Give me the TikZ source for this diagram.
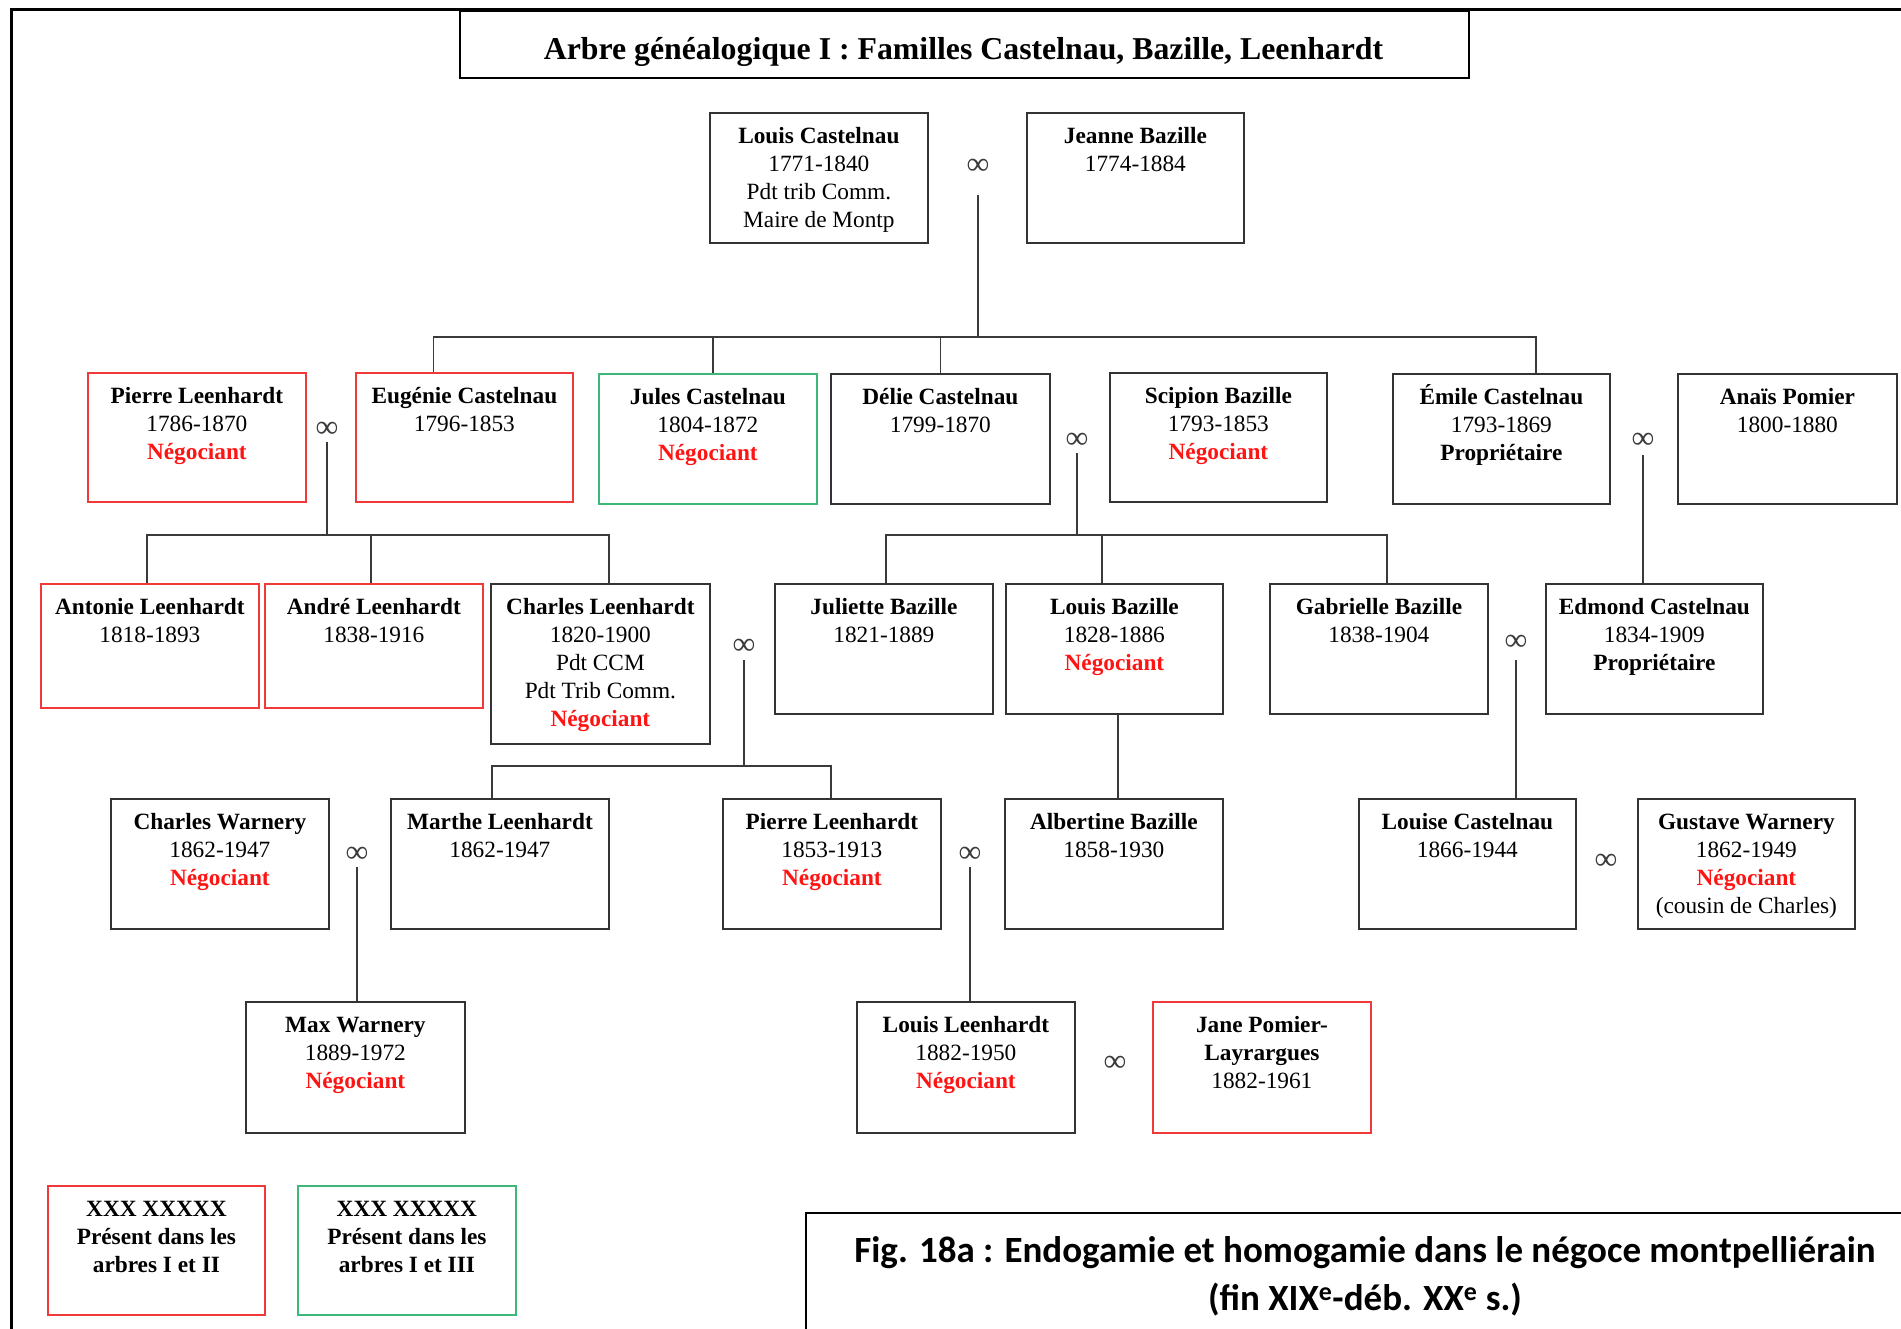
\documentclass[tikz,border=0pt]{standalone}
\usepackage{fontspec}
\setmainfont{Liberation Serif}
\newfontfamily\capfont{Carlito}
\definecolor{boxgray}{HTML}{333333}
\definecolor{linegray}{HTML}{3A3A3A}
\definecolor{myred}{HTML}{F03A3A}
\definecolor{mygreen}{HTML}{3CB878}
\definecolor{txtred}{HTML}{FF1414}
\newcommand\pcont[3]{\parbox[c][#2pt][t]{#1pt}{\centering\fontsize{23.3}{27.8}\selectfont\rule{0pt}{31pt}#3}}
\newcommand\nm[1]{\textbf{#1}}
\newcommand\negoc{{\color{txtred}\textbf{Négociant}}}
\tikzset{
  pbox/.style={draw=boxgray, line width=1.8pt, inner sep=0pt, anchor=north west},
  redbox/.style={pbox, draw=myred},
  greenbox/.style={pbox, draw=mygreen},
  link/.style={draw=linegray, line width=1.4pt},
  inf/.style={inner sep=0pt, font=\fontsize{32}{32}\selectfont, text=linegray},
}
\begin{document}
\begin{tikzpicture}[x=1pt,y=-1pt]
\useasboundingbox (0,0) rectangle (1901,1329);
% outer frame
\draw[line width=3pt, draw=black] (11,1340) -- (11,10) -- (1910,10);
% title
\node[draw=black, line width=2pt, inner sep=0pt, anchor=north west, minimum width=1009pt, minimum height=67pt] (title) at (459,10) {};
\node[anchor=base, inner sep=0pt, font=\fontsize{31.8}{36}\selectfont\bfseries] (titletext) at (963.5,60) {Arbre généalogique I : Familles Castelnau, Bazille, Leenhardt};

% row 0
\node[pbox] (lc) at (709,112) {\pcont{218}{130}{\nm{Louis Castelnau}\\1771-1840\\Pdt trib Comm.\\Maire de Montp}};
\node[pbox] (jb) at (1026,112) {\pcont{217}{130}{\nm{Jeanne Bazille}\\1774-1884}};

% row 1
\node[redbox] (pl1) at (87,372) {\pcont{218}{129}{\nm{Pierre Leenhardt}\\1786-1870\\\negoc}};
\node[redbox] (ec) at (355,372) {\pcont{217}{129}{\nm{Eugénie Castelnau}\\1796-1853}};
\node[greenbox] (jc) at (598,373) {\pcont{218}{130}{\nm{Jules Castelnau}\\1804-1872\\\negoc}};
\node[pbox] (dc) at (830,373) {\pcont{219}{130}{\nm{Délie Castelnau}\\1799-1870}};
\node[pbox] (sb) at (1109,372) {\pcont{217}{129}{\nm{Scipion Bazille}\\1793-1853\\\negoc}};
\node[pbox] (emc) at (1392,373) {\pcont{217}{130}{\nm{Émile Castelnau}\\1793-1869\\\nm{Propriétaire}}};
\node[pbox] (ap) at (1677,373) {\pcont{219}{130}{\nm{Anaïs Pomier}\\1800-1880}};

% row 2
\node[redbox] (al) at (40,583) {\pcont{218}{124}{\nm{Antonie Leenhardt}\\1818-1893}};
\node[redbox] (andre) at (264,583) {\pcont{218}{124}{\nm{André Leenhardt}\\1838-1916}};
\node[pbox] (cl) at (490,583) {\pcont{219}{160}{\nm{Charles Leenhardt}\\1820-1900\\Pdt CCM\\Pdt Trib Comm.\\\negoc}};
\node[pbox] (jub) at (774,583) {\pcont{218}{130}{\nm{Juliette Bazille}\\1821-1889}};
\node[pbox] (lb) at (1005,583) {\pcont{217}{130}{\nm{Louis Bazille}\\1828-1886\\\negoc}};
\node[pbox] (gb) at (1269,583) {\pcont{218}{130}{\nm{Gabrielle Bazille}\\1838-1904}};
\node[pbox] (edc) at (1545,583) {\pcont{217}{130}{\nm{Edmond Castelnau}\\1834-1909\\\nm{Propriétaire}}};

% row 3
\node[pbox] (cw) at (110,798) {\pcont{218}{130}{\nm{Charles Warnery}\\1862-1947\\\negoc}};
\node[pbox] (ml) at (390,798) {\pcont{218}{130}{\nm{Marthe Leenhardt}\\1862-1947}};
\node[pbox] (pl2) at (722,798) {\pcont{218}{130}{\nm{Pierre Leenhardt}\\1853-1913\\\negoc}};
\node[pbox] (ab) at (1004,798) {\pcont{218}{130}{\nm{Albertine Bazille}\\1858-1930}};
\node[pbox] (lcas) at (1358,798) {\pcont{217}{130}{\nm{Louise Castelnau}\\1866-1944}};
\node[pbox] (gw) at (1637,798) {\pcont{217}{130}{\nm{Gustave Warnery}\\1862-1949\\\negoc\\(cousin de Charles)}};

% row 4
\node[pbox] (mw) at (245,1001) {\pcont{219}{131}{\nm{Max Warnery}\\1889-1972\\\negoc}};
\node[pbox] (ll) at (856,1001) {\pcont{218}{131}{\nm{Louis Leenhardt}\\1882-1950\\\negoc}};
\node[redbox] (jp) at (1152,1001) {\pcont{218}{131}{\nm{Jane Pomier-}\\\nm{Layrargues}\\1882-1961}};

% legend
\node[redbox] (leg1) at (47,1185) {\pcont{217}{129}{\nm{XXX XXXXX}\\\nm{Présent dans les}\\\nm{arbres I et II}}};
\node[greenbox] (leg2) at (297,1185) {\pcont{218}{129}{\nm{XXX XXXXX}\\\nm{Présent dans les}\\\nm{arbres I et III}}};

% marriage symbols
\node[inf] (i1) at (978,167) {∞};
\node[inf] (i2) at (327,430) {∞};
\node[inf] (i3) at (1077,441) {∞};
\node[inf] (i4) at (1643,441) {∞};
\node[inf] (i5) at (744,647) {∞};
\node[inf] (i6) at (1516,643) {∞};
\node[inf] (i7) at (357,855) {∞};
\node[inf] (i8) at (970,855) {∞};
\node[inf] (i9) at (1606,862) {∞};
\node[inf] (i10) at (1115,1064) {∞};

% family 1: Louis Castelnau x Jeanne Bazille
\draw[link] ([yshift=-28pt]i1.center) -- ++(0,142);
\draw[link] ([xshift=-31pt]ec.north) -- ++(0,-35) -| ([xshift=34.5pt]emc.north);
\draw[link] ([xshift=5pt]jc.north) -- ++(0,-36);
\draw[link] (dc.north) -- ++(0,-36);

% family 2: Pierre Leenhardt x Eugenie Castelnau
\draw[link] ([yshift=-12pt]i2.center) -- ++(0,93);
\draw[link] ([xshift=-3pt]al.north) -- ++(0,-48) -| ([xshift=8.5pt]cl.north);
\draw[link] ([xshift=-3pt]andre.north) -- ++(0,-48);

% family 3: Delie Castelnau x Scipion Bazille
\draw[link] ([yshift=-12pt]i3.center) -- ++(0,82);
\draw[link] ([xshift=2pt]jub.north) -- ++(0,-48) -| ([xshift=8pt]gb.north);
\draw[link] ([xshift=-12.5pt]lb.north) -- ++(0,-48);

% family 4: Emile Castelnau x Anais Pomier -> Edmond
\draw[link] ([yshift=-14pt]i4.center) -- (i4.center |- edc.north);

% family 5: Charles Leenhardt x Juliette Bazille
\draw[link] ([yshift=-13pt]i5.center) -- ++(0,106);
\draw[link] ([xshift=-8pt]ml.north) -- ++(0,-32) -| ([xshift=-1pt]pl2.north);

% family 6: Gabrielle Bazille x Edmond Castelnau -> Louise
\draw[link] ([yshift=-17pt]i6.center) -- (i6.center |- lcas.north);

% Louis Bazille -> Albertine
\draw[link] ([xshift=3.5pt]lb.south) -- ([xshift=3.5pt]lb.south |- ab.north);

% Warnery x Marthe -> Max
\draw[link] ([yshift=-12pt]i7.center) -- (i7.center |- mw.north);

% Pierre Leenhardt x Albertine -> Louis
\draw[link] ([yshift=-12pt]i8.center) -- (i8.center |- ll.north);

% caption
\draw[line width=2.4pt, draw=black] (806,1340) -- (806,1213) -- (1910,1213);
\node[anchor=base, inner sep=0pt, font=\capfont\bfseries\fontsize{37}{46}\selectfont] (cap1) at (1365,1262) {Fig. 18a : Endogamie et homogamie dans le négoce montpelliérain};
\node[anchor=base, inner sep=0pt, font=\capfont\bfseries\fontsize{37}{46}\selectfont] (cap2) at (1365,1310) {(fin XIX\textsuperscript{e}-déb. XX\textsuperscript{e} s.)};
\end{tikzpicture}
\end{document}
